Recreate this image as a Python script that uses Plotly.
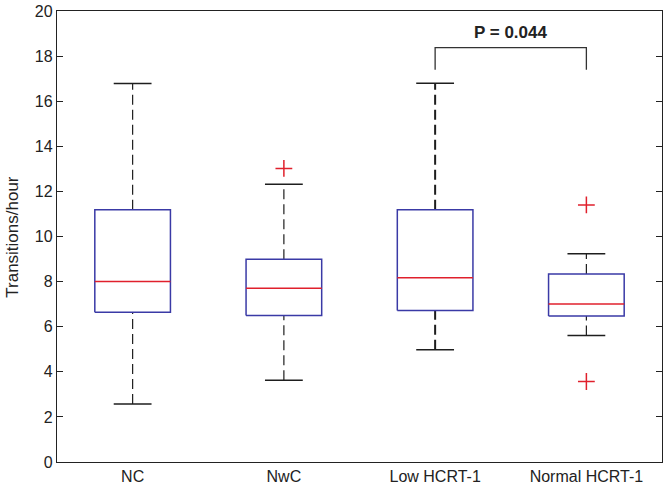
import plotly.graph_objects as go

# ---- data ----
groups = ["NC", "NwC", "Low HCRT-1", "Normal HCRT-1"]
lower_whisker = [2.57, 3.62, 4.98, 5.61]
q1 = [6.64, 6.50, 6.72, 6.47]
median = [8.00, 7.70, 8.17, 7.01]
q3 = [11.19, 8.99, 11.19, 8.34]
upper_whisker = [16.78, 12.32, 16.80, 9.23]
outlier_group = ["NwC", "Normal HCRT-1", "Normal HCRT-1"]
outlier_value = [13.02, 11.40, 3.57]

bracket_groups = ["Low HCRT-1", "Normal HCRT-1"]
bracket_top = 18.38
bracket_foot = 17.40
p_label = "P = 0.044"
p_label_y = 19.05

y_ticks = [0, 2, 4, 6, 8, 10, 12, 14, 16, 18, 20]
y_title = "Transitions/hour"

# ---- styles ----
BOX_HALF = 0.25
CAP_HALF = 0.125
BOX_COLOR = "#3a3aa6"
MED_COLOR = "#e0202c"
WHISK_COLOR = "#1e1e1e"
whisker_width = [1.2, 1.2, 2.0, 1.2]
FONT = "Liberation Sans, Arial, sans-serif"

pos = {g: i + 1 for i, g in enumerate(groups)}

fig = go.Figure()

for i, g in enumerate(groups):
    c = pos[g]
    # whiskers (dashed)
    for a, b in ((q3[i], upper_whisker[i]), (lower_whisker[i], q1[i])):
        fig.add_trace(go.Scatter(
            x=[c, c], y=[a, b], mode="lines",
            line=dict(color=WHISK_COLOR, width=whisker_width[i], dash="10px,5px"),
            hoverinfo="skip", showlegend=False))
    # caps
    for v in (upper_whisker[i], lower_whisker[i]):
        fig.add_trace(go.Scatter(
            x=[c - CAP_HALF, c + CAP_HALF], y=[v, v], mode="lines",
            line=dict(color=WHISK_COLOR, width=1.5),
            hoverinfo="skip", showlegend=False))
    # box
    fig.add_trace(go.Scatter(
        x=[c - BOX_HALF, c + BOX_HALF, c + BOX_HALF, c - BOX_HALF, c - BOX_HALF],
        y=[q1[i], q1[i], q3[i], q3[i], q1[i]], mode="lines",
        line=dict(color=BOX_COLOR, width=1.5),
        hoverinfo="skip", showlegend=False))
    # median
    fig.add_trace(go.Scatter(
        x=[c - BOX_HALF, c + BOX_HALF], y=[median[i], median[i]], mode="lines",
        line=dict(color=MED_COLOR, width=1.5),
        hoverinfo="skip", showlegend=False))

# outliers
fig.add_trace(go.Scatter(
    x=[pos[g] for g in outlier_group], y=outlier_value, mode="markers",
    marker=dict(symbol="cross-thin-open", size=12, color=MED_COLOR,
                line=dict(color=MED_COLOR, width=1.5)),
    hoverinfo="skip", showlegend=False))

# significance bracket
bx0, bx1 = pos[bracket_groups[0]], pos[bracket_groups[1]]
fig.add_trace(go.Scatter(
    x=[bx0, bx0, bx1, bx1], y=[bracket_foot, bracket_top, bracket_top, bracket_foot],
    mode="lines", line=dict(color="#333333", width=1.3),
    hoverinfo="skip", showlegend=False))
fig.add_annotation(x=(bx0 + bx1) / 2, y=p_label_y, text="<b>" + p_label + "</b>",
                   showarrow=False, font=dict(family=FONT, size=17, color="#222"),
                   xref="x", yref="y")

# y-axis title (placed as a rotated annotation to match the reference spacing)
fig.add_annotation(x=-0.074, y=0.5, xref="paper", yref="paper", text=y_title,
                   textangle=-90, showarrow=False, xanchor="center", yanchor="middle",
                   font=dict(family=FONT, size=17, color="#222"))

fig.update_layout(
    width=667, height=489,
    margin=dict(l=57, r=5, t=11, b=27, autoexpand=False),
    paper_bgcolor="white", plot_bgcolor="white",
    font=dict(family=FONT, size=15, color="#222"),
    xaxis=dict(range=[0.5, 4.5], tickvals=list(pos.values()), ticktext=groups,
               showgrid=False, zeroline=False, showline=True, linecolor="#222",
               linewidth=1.3, mirror=True, ticks="", tickfont=dict(size=16),
               automargin=False),
    yaxis=dict(range=[0, 20], tickvals=y_ticks, showgrid=False, zeroline=False,
               showline=True, linecolor="#222", linewidth=1.3, mirror="ticks",
               ticks="inside", ticklen=6, tickcolor="#222",
               tickfont=dict(size=16), automargin=False),
)

fig.write_html("out.html", config={"displayModeBar": False},
               post_script="document.body.style.margin='0px';")
